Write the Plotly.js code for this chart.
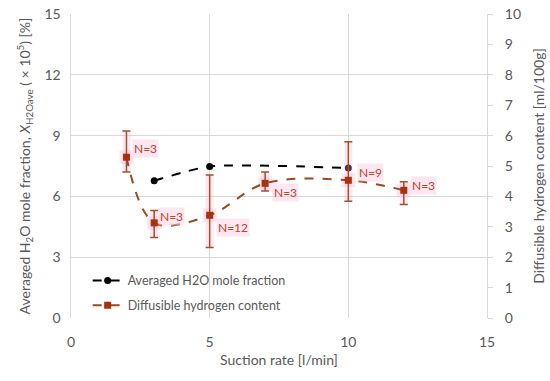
<!DOCTYPE html>
<html><head><meta charset="utf-8">
<script src="https://cdn.plot.ly/plotly-3.0.1.min.js"></script>
<style>html,body{margin:0;padding:0;background:#fff}#c{width:550px;height:381px}</style>
</head><body><div id="c"></div>
<script>
// Averaged H2O mole fraction (left axis)
const h2oX = [3, 5, 10];
const h2oY = [6.77, 7.48, 7.4];
// Diffusible hydrogen content (right axis)
const dhX = [2, 3, 5, 7, 10, 12];
const dhY = [5.29, 3.13, 3.38, 4.43, 4.53, 4.2];
const dhErrPlus = [0.86, 0.41, 1.32, 0.37, 1.27, 0.28];
const dhErrMinus = [0.49, 0.48, 1.06, 0.25, 0.69, 0.47];
const dhLabels = ["N=3", "N=3", "N=12", "N=3", "N=9", "N=3"];
const labelShiftX = [6, 4, 6, 7, 9, 6];
const labelShiftY = [9, 6, -12, -9, 8, 5];

const font = "Lato, 'Open Sans', sans-serif";
const tickCol = "#595959";
const errCol = "#A0522D";
const markCol = "#A8320E";
const lineCol = "#9A4A1C";
const gridCol = "#d9d9d9";

const traces = [
  { // pink glow (no legend)
    x: dhX, y: dhY, yaxis: "y2", type: "scatter", mode: "markers",
    marker: {symbol: "square", size: 14, color: "rgba(255,175,212,0.3)"},
    error_y: {type: "data", symmetric: false, array: dhErrPlus, arrayminus: dhErrMinus,
      color: "rgba(255,175,212,0.3)", thickness: 8, width: 0},
    showlegend: false, hoverinfo: "skip"
  },
  {
    name: "Averaged H2O mole fraction", x: h2oX, y: h2oY, type: "scatter", legend: "legend",
    mode: "lines+markers", line: {color: "#000", dash: "dash", width: 2, shape: "spline", smoothing: 0.6},
    marker: {color: "#000", size: 7, symbol: "circle"}
  },
  {
    name: "Diffusible hydrogen content", x: dhX, y: dhY, yaxis: "y2", type: "scatter", legend: "legend2",
    mode: "lines+markers", line: {color: lineCol, dash: "dash", width: 2, shape: "spline", smoothing: 1},
    marker: {color: markCol, size: 7, symbol: "square"},
    error_y: {type: "data", symmetric: false, array: dhErrPlus, arrayminus: dhErrMinus,
      color: errCol, thickness: 1.5, width: 4}
  }
];

const annotations = dhLabels.map((t, i) => ({
  x: dhX[i], y: dhY[i], xref: "x", yref: "y2", text: t, showarrow: false,
  xanchor: "left", yanchor: "middle", xshift: labelShiftX[i], yshift: labelShiftY[i],
  font: {family: font, size: 12, color: "#B5472B"}, bgcolor: "rgba(255,205,228,0.5)", borderpad: 1
}));

const legendBase = {xanchor: "left", yanchor: "middle", bgcolor: "rgba(0,0,0,0)",
  font: {family: font, size: 12.5, color: tickCol}, itemwidth: 30};

const layout = {
  width: 550, height: 381,
  margin: {l: 71, r: 63, t: 14, b: 63},
  paper_bgcolor: "#fff", plot_bgcolor: "#fff",
  font: {family: font, color: tickCol},
  showlegend: true,
  legend: Object.assign({}, legendBase, {x: 0.04, y: 0.122}),
  legend2: Object.assign({}, legendBase, {x: 0.04, y: 0.041}),
  xaxis: {range: [0, 15], tickvals: [0, 5, 10, 15], showgrid: true, gridcolor: gridCol,
    zeroline: false, showline: false, ticks: "",
    tickfont: {family: font, size: 14, color: tickCol}, ticklabelstandoff: 14,
    title: {text: "Suction rate [l/min]", font: {family: font, size: 14, color: tickCol}, standoff: 6}},
  yaxis: {range: [0, 15], tickvals: [0, 3, 6, 9, 12, 15], showgrid: true, gridcolor: gridCol,
    zeroline: false, showline: true, linecolor: gridCol, linewidth: 1.5, ticks: "",
    tickfont: {family: font, size: 14, color: tickCol}, ticklabelstandoff: 6,
    title: {text: "Averaged H<sub>2</sub>O mole fraction, <i>X</i><sub>H2Oave</sub> ( × 10<sup>5</sup>) [%]",
      font: {family: font, size: 14, color: tickCol}, standoff: 10}},
  yaxis2: {range: [0, 10], tickvals: [0,1,2,3,4,5,6,7,8,9,10], overlaying: "y", side: "right",
    showgrid: false, zeroline: false, showline: true, linecolor: gridCol, linewidth: 1,
    ticks: "outside", ticklen: 5, tickcolor: gridCol, ticklabelstandoff: 9,
    tickfont: {family: font, size: 14, color: tickCol},
    title: {text: "Diffusible hydrogen content [ml/100g]", font: {family: font, size: 14, color: tickCol}, standoff: 14}},
  annotations: annotations
};

Plotly.newPlot("c", traces, layout, {staticPlot: true, displayModeBar: false});
</script></body></html>
